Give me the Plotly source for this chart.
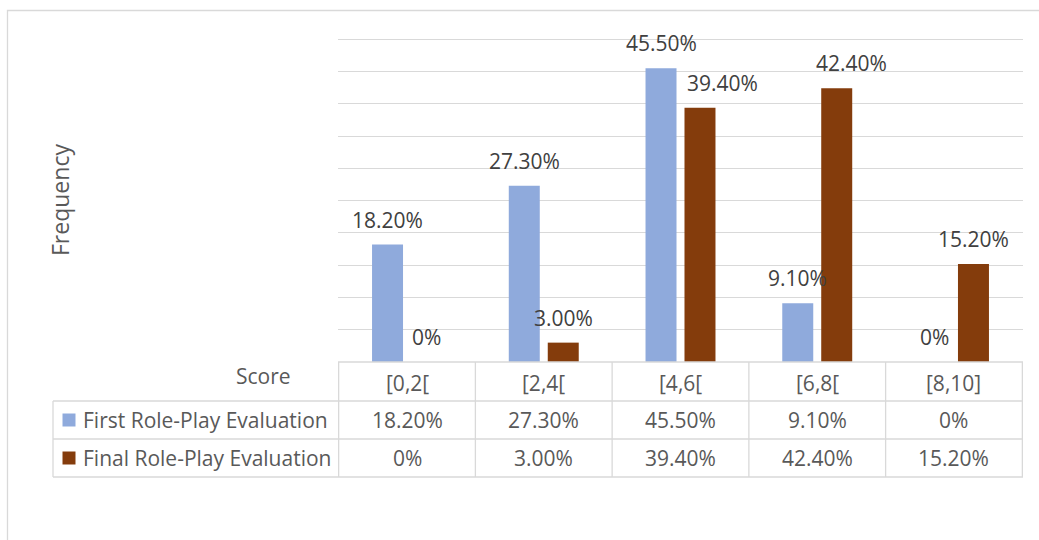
import plotly.graph_objects as go

# ---- data ----
categories = ["[0,2[", "[2,4[", "[4,6[", "[6,8[", "[8,10]"]
series_names = ["First Role-Play Evaluation", "Final Role-Play Evaluation"]
first_eval = [0.182, 0.273, 0.455, 0.091, 0.0]
final_eval = [0.0, 0.030, 0.394, 0.424, 0.152]
first_labels = ["18.20%", "27.30%", "45.50%", "9.10%", "0%"]
final_labels = ["0%", "3.00%", "39.40%", "42.40%", "15.20%"]
y_title = "Frequency"
x_title = "Score"

# ---- style / layout ----
W, H = 1039, 540
L, R, T, B = 338, 16, 36, 178
PW, PH = W - L - R, H - T - B
Y_MAX = 0.505
colors = ["#8FAADC", "#843C0C"]
grid_c = "#D9D9D9"
txt_c = "#595959"
lab_c = "#404040"
FONT = "Open Sans"
FS = 21

def px(x):
    return (x - L) / PW

def py(y):
    return (H - B - y) / PH

fig = go.Figure()
series = [first_eval, final_eval]
for name, vals, col in zip(series_names, series, colors):
    fig.add_trace(go.Bar(x=categories, y=vals, name=name, marker_color=col,
                         marker_line_width=0, showlegend=False, hoverinfo="x+y"))

annotations = []
shapes = []

# data labels (per-label horizontal nudges in px)
nudges = [[0, 0, 0, 0, 0], [0, 0, 22, 15, 0]]
slot_off = [-19.5, 19.5]
labels = [first_labels, final_labels]
for s in range(2):
    for i, c in enumerate(categories):
        annotations.append(dict(x=c, y=series[s][i], xref="x", yref="y",
                                text=labels[s][i], showarrow=False,
                                xshift=slot_off[s] + nudges[s][i], yshift=25,
                                yanchor="middle", xanchor="center",
                                font=dict(family=FONT, size=FS, color=lab_c)))

# data table
row_lines = [362, 401, 439, 477]
row_centers = [(row_lines[k] + row_lines[k + 1]) / 2 for k in range(3)]
tbl_left = 53
line = dict(color=grid_c, width=1.3)
shapes.append(dict(type="line", xref="paper", yref="paper", x0=px(L), x1=px(L + PW),
                   y0=py(row_lines[0]), y1=py(row_lines[0]), line=line))
for yl in row_lines[1:]:
    shapes.append(dict(type="line", xref="paper", yref="paper", x0=px(tbl_left), x1=px(L + PW),
                       y0=py(yl), y1=py(yl), line=line))
for k in range(len(categories) + 1):
    shapes.append(dict(type="line", xref="x", yref="paper", x0=k - 0.5, x1=k - 0.5,
                       y0=py(row_lines[0]), y1=py(row_lines[-1]), line=line))
shapes.append(dict(type="line", xref="paper", yref="paper", x0=px(tbl_left), x1=px(tbl_left),
                   y0=py(row_lines[1]), y1=py(row_lines[-1]), line=line))

# header row
for c in categories:
    annotations.append(dict(x=c, y=py(row_centers[0] + 1), xref="x", yref="paper", text=c,
                            showarrow=False, xanchor="center", yanchor="middle",
                            font=dict(family=FONT, size=FS, color=txt_c)))
annotations.append(dict(x=px(293), y=py(376), xref="paper", yref="paper", text=x_title,
                        showarrow=False, xanchor="right", yanchor="middle",
                        font=dict(family=FONT, size=FS, color=txt_c)))
# series rows
for s in range(2):
    yc = row_centers[s + 1]
    for i, c in enumerate(categories):
        annotations.append(dict(x=c, y=py(yc), xref="x", yref="paper", text=labels[s][i],
                                showarrow=False, xanchor="center", yanchor="middle",
                                font=dict(family=FONT, size=FS, color=txt_c)))
    shapes.append(dict(type="rect", xref="paper", yref="paper", x0=px(62.5), x1=px(75.5),
                       y0=py(yc - 6.5), y1=py(yc + 6.5), fillcolor=colors[s], line_width=0))
    annotations.append(dict(x=px(81), y=py(yc), xref="paper", yref="paper", text=series_names[s],
                            showarrow=False, xanchor="left", yanchor="middle",
                            font=dict(family=FONT, size=FS, color=txt_c)))

# y-axis title
annotations.append(dict(x=px(60), y=py(200), xref="paper", yref="paper", text=y_title,
                        showarrow=False, textangle=-90, xanchor="center", yanchor="middle",
                        font=dict(family=FONT, size=23, color=txt_c)))

# outer chart border
shapes.append(dict(type="rect", xref="paper", yref="paper", x0=px(7.5), x1=px(W + 20),
                   y0=py(H + 20), y1=py(10.5), line=dict(color=grid_c, width=1.3),
                   fillcolor="rgba(0,0,0,0)", layer="below"))

fig.update_layout(
    width=W, height=H,
    margin=dict(l=L, r=R, t=T, b=B, pad=0),
    paper_bgcolor="white", plot_bgcolor="white",
    barmode="group", bargap=0.43, bargroupgap=0.205,
    font=dict(family=FONT, size=FS, color=txt_c),
    xaxis=dict(showticklabels=False, showgrid=False, zeroline=False, showline=False,
               ticks="", fixedrange=True),
    yaxis=dict(range=[0, Y_MAX], dtick=0.05, tick0=0, showticklabels=False,
               showgrid=True, gridcolor=grid_c, gridwidth=1.3, zeroline=False,
               showline=False, ticks="", fixedrange=True),
    annotations=annotations, shapes=shapes,
)

fig.write_html("out.html")
